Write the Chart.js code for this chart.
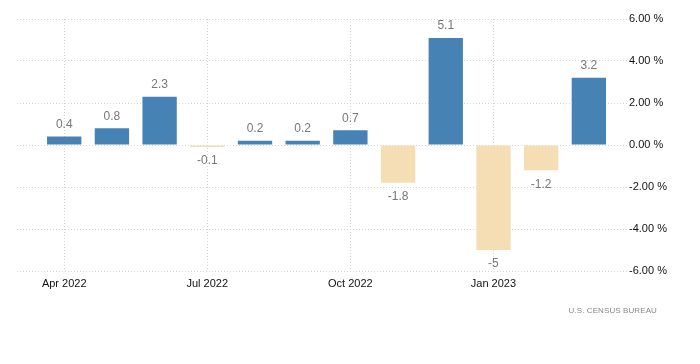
<!DOCTYPE html>
<html>
<head>
<meta charset="utf-8">
<script src="https://cdn.jsdelivr.net/npm/chart.js@4"></script>
<style>
body{margin:0;background:#fff;}
#wrap{position:relative;width:700px;height:364px;}
#source{position:absolute;right:43px;top:306px;font:8px "Liberation Sans",Arial,sans-serif;letter-spacing:0.1px;color:#888;}
</style>
</head>
<body>
<div id="wrap">
<canvas id="chart" width="700" height="364"></canvas>
<div id="source">U.S. CENSUS BUREAU</div>
</div>
<script>

// monthly change, percent
const months = ["Apr 2022","May 2022","Jun 2022","Jul 2022","Aug 2022","Sep 2022",
"Oct 2022","Nov 2022","Dec 2022","Jan 2023","Feb 2023","Mar 2023"];
const values = [0.4, 0.8, 2.3, -0.1, 0.2, 0.2, 0.7, -1.8, 5.1, -5, -1.2, 3.2];
const labelTicks = [0, 3, 6, 9];
const yTicks = [-6, -4, -2, 0, 2, 4, 6];

// value labels above / below each bar
const valueLabels = {
id:"valueLabels",
afterDatasetsDraw(chart){
const ctx = chart.ctx;
const meta = chart.getDatasetMeta(0);
ctx.save();
ctx.font = "12px 'Liberation Sans', Arial, sans-serif";
ctx.fillStyle = "#777";
ctx.textAlign = "center";
ctx.textBaseline = "middle";
meta.data.forEach(function(bar, i){
let v = values[i];
let y = v >= 0 ? bar.y - 12 : bar.y + 14;
ctx.fillText(String(v), bar.x, y);
});
ctx.restore();
}
};

const ctx = document.getElementById("chart").getContext("2d");

new Chart(ctx,{
type:"bar",
data:{
datasets:[{
data: values.map(function(v,i){ return {x:i, y:v}; }),
backgroundColor: values.map(function(v){ return v >= 0 ? "#4682b4" : "#f5deb3"; }),
categoryPercentage:1,
barPercentage:0.72
}]
},
options:{
responsive:false,
animation:false,
layout:{ padding:{ left:17, top:19, right:0, bottom:0 } },
plugins:{ legend:{display:false}, tooltip:{enabled:false} },
scales:{
x:{
type:"linear",
offset:false,
min:-0.99,
max:11.8,
afterBuildTicks:function(scale){
scale.ticks = labelTicks.map(function(v){ return {value:v}; });
},
afterFit:function(scale){ scale.height = 93; },
grid:{ color:"#d4d4d4", drawTicks:false, offset:false },
border:{ display:false, dash:[1,2] },
ticks:{
padding:6,
color:"#111",
font:{ family:"'Liberation Sans', Arial, sans-serif", size:11 },
maxRotation:0,
callback:function(v){ return months[v]; }
}
},
y:{
position:"right",
min:-6,
max:6,
afterBuildTicks:function(scale){
scale.ticks = yTicks.map(function(v){ return {value:v}; });
},
afterFit:function(scale){ scale.width = 73; },
grid:{ color:"#d4d4d4", drawTicks:false },
border:{ display:false, dash:[1,2] },
ticks:{
padding:2,
color:"#111",
font:{ family:"'Liberation Sans', Arial, sans-serif", size:11 },
callback:function(v){ return v.toFixed(2) + " %"; }
}
}
}
},
plugins:[valueLabels]
});

</script>
</body>
</html>
